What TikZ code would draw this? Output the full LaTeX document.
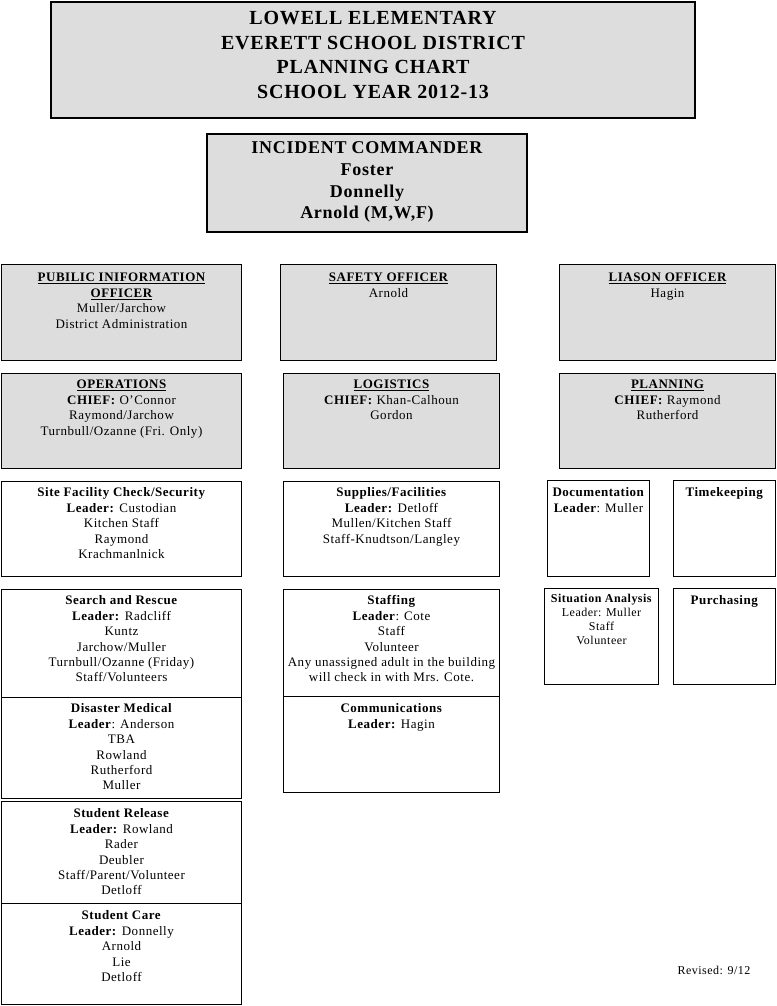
\documentclass[tikz,border=0pt]{standalone}
\usepackage{fontspec}
\setmainfont{Liberation Serif}[LetterSpace=4]
\usetikzlibrary{fit}
\definecolor{boxgray}{RGB}{221,221,221}
\tikzset{
  gbox/.style={draw=black, fill=boxgray, line width=1pt, inner sep=0pt},
  wbox/.style={draw=black, fill=white, line width=1pt, inner sep=0pt},
  bigbox/.style={gbox, line width=2pt},
  txt/.style={align=center, inner sep=0pt, anchor=north, font=\fontsize{13}{15.4}\selectfont},
  smalltxt/.style={align=center, inner sep=0pt, anchor=north, font=\fontsize{12}{13.8}\selectfont},
  headtxt/.style={align=center, inner sep=0pt, anchor=north, font=\bfseries\fontsize{20}{24.5}\selectfont},
  ictxt/.style={align=center, inner sep=0pt, anchor=north, font=\bfseries\fontsize{18}{21.6}\selectfont},
}
\begin{document}
\begin{tikzpicture}[x=1pt,y=-1pt]
\useasboundingbox (0,0) rectangle (776,1006);
% header
\node[bigbox, fit={(51,2) (695,118)}] (head) {};
\node[headtxt] (headt) at ([yshift=-6.5pt]head.north) {\strut LOWELL ELEMENTARY\\EVERETT SCHOOL DISTRICT\\PLANNING CHART\\SCHOOL YEAR 2012-13};
% incident commander
\node[bigbox, fit={(207,134) (527,232)}] (ic) {};
\node[ictxt] (ict) at ([yshift=-5.5pt]ic.north) {\strut INCIDENT COMMANDER\\Foster\\Donnelly\\Arnold (M,W,F)};
% row 1
\node[gbox, fit={(1.5,264.5) (241.5,360.5)}] (pio) {};
\node[txt] (piot) at ([yshift=-7pt]pio.north) {\strut\textbf{\underline{PUBILIC INIFORMATION}}\\\textbf{\underline{OFFICER}}\\Muller/Jarchow\\District Administration};
\node[gbox, fit={(280.5,264.5) (496.5,360.5)}] (saf) {};
\node[txt] (saft) at ([yshift=-7pt]saf.north) {\strut\textbf{\underline{SAFETY OFFICER}}\\Arnold};
\node[gbox, fit={(559.5,264.5) (775.5,360.5)}] (lia) {};
\node[txt] (liat) at ([yshift=-7pt]lia.north) {\strut\textbf{\underline{LIASON OFFICER}}\\Hagin};
% row 2
\node[gbox, fit={(1.5,373.5) (241.5,468.5)}] (ops) {};
\node[txt] (opst) at ([yshift=-5pt]ops.north) {\strut\textbf{\underline{OPERATIONS}}\\\textbf{CHIEF:} O'Connor\\Raymond/Jarchow\\Turnbull/Ozanne (Fri. Only)};
\node[gbox, fit={(283.5,373.5) (499.5,468.5)}] (log) {};
\node[txt] (logt) at ([yshift=-5pt]log.north) {\strut\textbf{\underline{LOGISTICS}}\\\textbf{CHIEF:} Khan-Calhoun\\Gordon};
\node[gbox, fit={(559.5,373.5) (775.5,468.5)}] (pla) {};
\node[txt] (plat) at ([yshift=-5pt]pla.north) {\strut\textbf{\underline{PLANNING}}\\\textbf{CHIEF:} Raymond\\Rutherford};
% operations column
\node[wbox, fit={(1.5,481.5) (241.5,576.5)}] (site) {};
\node[txt] (sitet) at ([yshift=-5pt]site.north) {\strut\textbf{Site Facility Check/Security}\\\textbf{Leader:} Custodian\\Kitchen Staff\\Raymond\\Krachmanlnick};
\node[wbox, fit={(1.5,589.5) (241.5,697.5)}] (sar) {};
\node[txt] (sart) at ([yshift=-5pt]sar.north) {\strut\textbf{Search and Rescue}\\\textbf{Leader:} Radcliff\\Kuntz\\Jarchow/Muller\\Turnbull/Ozanne (Friday)\\Staff/Volunteers};
\node[wbox, fit={(1.5,697.5) (241.5,798.5)}] (med) {};
\node[txt] (medt) at ([yshift=-5pt]med.north) {\strut\textbf{Disaster Medical}\\\textbf{Leader}: Anderson\\TBA\\Rowland\\Rutherford\\Muller};
\node[wbox, fit={(1.5,801.5) (241.5,903.5)}] (rel) {};
\node[txt] (relt) at ([yshift=-6pt]rel.north) {\strut\textbf{Student Release}\\\textbf{Leader:} Rowland\\Rader\\Deubler\\Staff/Parent/Volunteer\\Detloff};
\node[wbox, fit={(1.5,903.5) (241.5,1004.5)}] (care) {};
\node[txt] (caret) at ([yshift=-6pt]care.north) {\strut\textbf{Student Care}\\\textbf{Leader:} Donnelly\\Arnold\\Lie\\Detloff};
% logistics column
\node[wbox, fit={(283.5,481.5) (499.5,576.5)}] (sup) {};
\node[txt] (supt) at ([yshift=-5pt]sup.north) {\strut\textbf{Supplies/Facilities}\\\textbf{Leader:} Detloff\\Mullen/Kitchen Staff\\Staff-Knudtson/Langley};
\node[wbox, fit={(283.5,589.5) (499.5,696.5)}] (stf) {};
\node[txt] (stft) at ([yshift=-5pt]stf.north) {\strut\textbf{Staffing}\\\textbf{Leader}: Cote\\Staff\\Volunteer\\Any unassigned adult in the building\\will check in with Mrs. Cote.};
\node[wbox, fit={(283.5,696.5) (499.5,792.5)}] (com) {};
\node[txt] (comt) at ([yshift=-6pt]com.north) {\strut\textbf{Communications}\\\textbf{Leader:} Hagin};
% planning column
\node[wbox, fit={(547.5,480.5) (649.5,576.5)}] (doc) {};
\node[txt] (doct) at ([yshift=-6pt]doc.north) {\strut\textbf{Documentation}\\\textbf{Leader}: Muller};
\node[wbox, fit={(673.5,480.5) (775.5,576.5)}] (time) {};
\node[txt] (timet) at ([yshift=-6pt]time.north) {\strut\textbf{Timekeeping}};
\node[wbox, fit={(544.5,588.5) (658.5,684.5)}] (sit) {};
\node[smalltxt] (sitat) at ([yshift=-5pt]sit.north) {\strut\textbf{Situation Analysis}\\Leader: Muller\\Staff\\Volunteer};
\node[wbox, fit={(673.5,588.5) (775.5,684.5)}] (pur) {};
\node[txt] (purt) at ([yshift=-6pt]pur.north) {\strut\textbf{Purchasing}};
% revision note
\node[inner sep=0pt, font=\fontsize{12}{14}\selectfont] (rev) at (714,970) {Revised: 9/12};
\end{tikzpicture}
\end{document}
